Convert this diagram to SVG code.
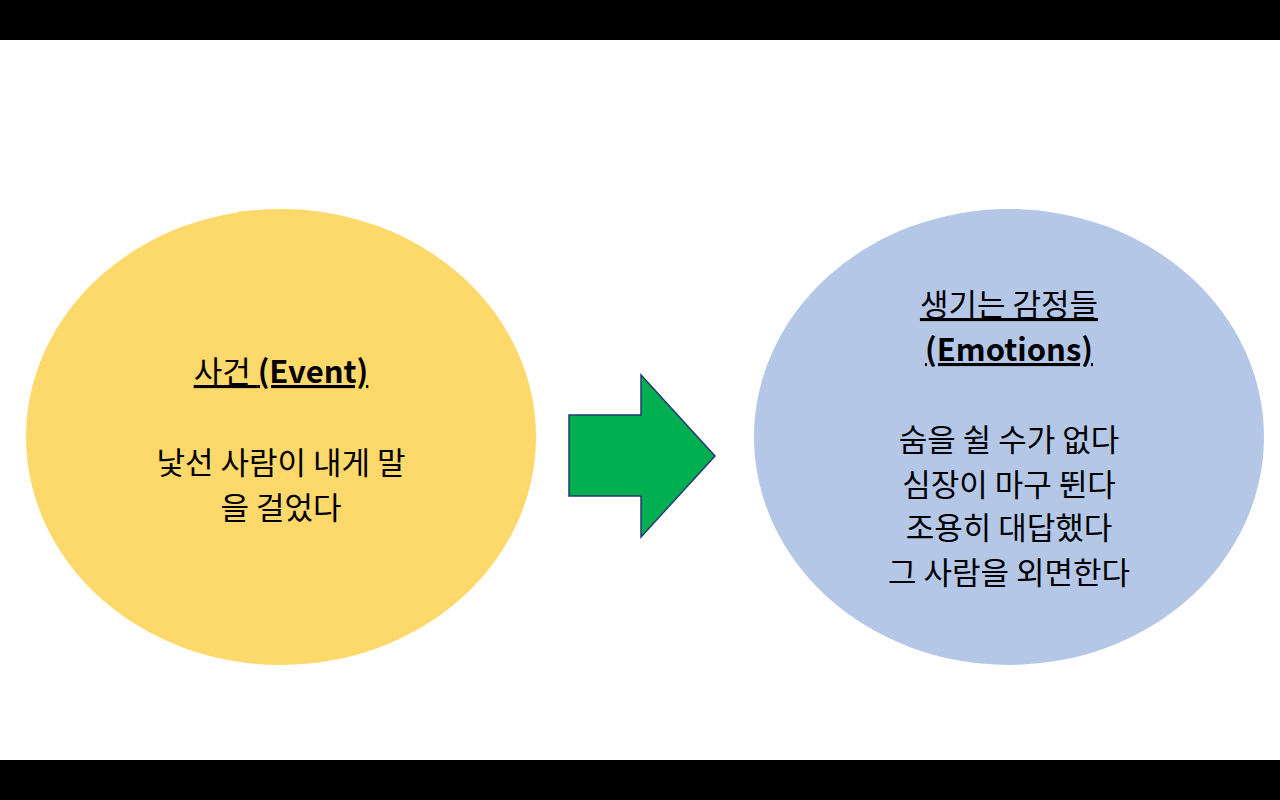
<svg xmlns="http://www.w3.org/2000/svg" width="1280" height="800" viewBox="0 0 1280 800">
<style>
text{font-family:"Noto Sans CJK KR","Noto Sans",sans-serif;font-size:31px;fill:#000;text-anchor:middle}
.t{text-decoration:underline}
.b{font-weight:bold}
</style>
<rect width="1280" height="800" fill="#fff"/>
<rect width="1280" height="40" fill="#000"/>
<rect y="760" width="1280" height="40" fill="#000"/>
<g id="event">
<ellipse cx="281" cy="437" rx="255" ry="228" fill="#fdd86b"/>
<text x="281" y="383" class="t">사건 <tspan class="b">(Event)</tspan></text>
<text x="281" y="474">낯선 사람이 내게 말</text>
<text x="281" y="519">을 걸었다</text>
</g>
<g id="connectors">
<path d="M569,415 H641 V375 L715,456 L641,537 V496 H569 Z" fill="#00b050" stroke="#1f3a7a" stroke-width="1.5"/>
</g>
<g id="emotions">
<ellipse cx="1009" cy="437" rx="255" ry="228" fill="#b4c7e7"/>
<text x="1009" y="316" class="t">생기는 감정들</text>
<text x="1009" y="361" class="t b">(Emotions)</text>
<text x="1009" y="451">숨을 쉴 수가 없다</text>
<text x="1009" y="496">심장이 마구 뛴다</text>
<text x="1009" y="539"> 조용히 대답했다</text>
<text x="1009" y="584">그 사람을 외면한다</text>
</g>
</svg>
